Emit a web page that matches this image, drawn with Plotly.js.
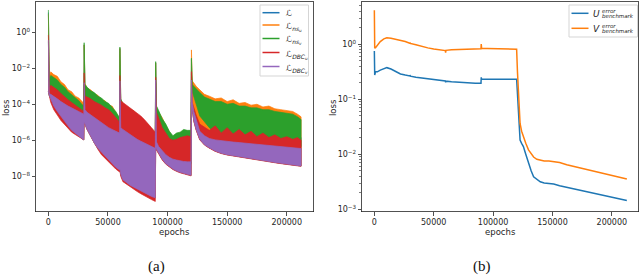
<!DOCTYPE html>
<html><head><meta charset="utf-8">
<script src="https://cdn.plot.ly/plotly-3.0.1.min.js"></script>
<style>html,body{margin:0;padding:0;background:#fff}#chart{width:640px;height:275px}</style>
</head><body><div id="chart"></div>
<script>
// ---------- Panel (a): loss components (band envelopes, log10 of loss) ----------
const EPOCHS = [
  0, 700, 2000, 4500, 7500, 10500, 13500, 16500, 19500, 22500, 25500, 28000, 29700,
  30000, 30700, 32500, 35500, 38500, 41500, 44500, 47500, 50500, 53500, 56500, 59700,
  60000, 60700, 62500, 65500, 68500, 71500, 74500, 77500, 80500, 83500, 86500, 89700,
  90000, 90700, 92500, 95500, 98500, 101500, 104500, 107500, 110500, 113500, 116500, 119700,
  120000, 120700, 122000, 124000, 127000, 131000, 135000, 140000, 145000, 150000, 155000, 160000,
  165000, 170000, 175000, 180000, 185000, 190000, 195000, 200000, 205000, 209000, 212000
];
// L (total) upper envelope
const L_HI = [
  1.1, -2.9, -2.7, -2.8, -3.0, -3.2, -3.4, -3.55, -3.7, -3.85, -4.0, -4.15, -4.25,
  -0.7, -3.2, -3.35, -3.5, -3.6, -3.75, -3.85, -4.0, -4.15, -4.3, -4.55, -4.85,
  -0.9, -3.9, -4.05, -4.2, -4.3, -4.45, -4.6, -4.8, -5.0, -5.2, -5.45, -5.65,
  -1.7, -4.3, -4.6, -5.0, -5.3, -5.65, -5.85, -5.75, -5.65, -5.55, -5.55, -5.55,
  -1.5, -3.2, -3.4, -3.7, -4.2, -4.6, -4.9, -5.05, -5.2, -5.3, -5.35, -5.4,
  -5.45, -5.5, -5.55, -5.6, -5.65, -5.7, -5.72, -5.75, -5.8, -5.8, -5.85
];
// L_ns_u upper envelope
const NSU_HI = [
  1.0, -2.45, -2.2, -2.35, -2.45, -2.75, -2.9, -3.2, -3.3, -3.55, -3.65, -3.85, -3.95,
  -0.7, -2.85, -3.1, -3.2, -3.4, -3.5, -3.75, -3.8, -4.05, -4.1, -4.45, -4.8,
  -0.9, -3.75, -4.0, -4.1, -4.3, -4.35, -4.6, -4.7, -5.0, -5.1, -5.45, -5.65,
  -1.7, -4.15, -4.45, -4.75, -5.2, -5.5, -5.85, -5.65, -5.6, -5.45, -5.5, -5.5,
  -0.98, -2.7, -2.85, -3.0, -3.2, -3.45, -3.55, -3.7, -3.65, -3.85, -3.75, -3.95,
  -3.9, -4.05, -4.0, -4.15, -4.1, -4.25, -4.3, -4.35, -4.4, -4.55, -4.7
];
// L_ns_v upper / lower envelope
const NSV_HI = [
  1.24, -2.6, -2.4, -2.5, -2.65, -2.9, -3.05, -3.3, -3.45, -3.65, -3.8, -4.0, -4.1,
  -0.58, -2.9, -3.05, -3.25, -3.35, -3.55, -3.65, -3.85, -3.95, -4.15, -4.4, -4.75,
  -0.82, -3.7, -3.95, -4.15, -4.25, -4.4, -4.55, -4.75, -4.95, -5.15, -5.4, -5.6,
  -1.63, -4.1, -4.35, -4.8, -5.1, -5.5, -5.75, -5.6, -5.55, -5.4, -5.45, -5.45,
  -1.44, -2.9, -3.0, -3.15, -3.35, -3.6, -3.7, -3.85, -3.85, -4.0, -3.95, -4.1,
  -4.1, -4.2, -4.2, -4.3, -4.3, -4.4, -4.45, -4.5, -4.55, -4.7, -4.85
];
const NSV_LO = [
  -0.5, -3.5, -3.6, -3.7, -3.85, -4.0, -4.15, -4.25, -4.35, -4.45, -4.55, -4.65, -4.7,
  -2.9, -4.4, -4.6, -4.75, -4.9, -5.05, -5.15, -5.3, -5.45, -5.55, -5.65, -5.75,
  -2.8, -5.4, -5.5, -5.65, -5.8, -5.95, -6.05, -6.15, -6.25, -6.35, -6.45, -6.55,
  -2.8, -6.2, -6.45, -6.7, -6.9, -7.05, -7.15, -7.2, -7.25, -7.28, -7.3, -7.3,
  -2.3, -3.3, -3.6, -4.0, -4.65, -5.0, -5.3, -5.6, -5.8, -5.9, -5.95, -6.0,
  -6.0, -6.05, -6.1, -6.1, -6.15, -6.2, -6.2, -6.25, -6.3, -6.3, -6.35
];
// L_DBC_u upper / lower envelope
const DBCU_HI = [
  -0.15, -3.1, -2.95, -3.05, -3.2, -3.4, -3.6, -3.75, -3.9, -4.05, -4.15, -4.3, -4.4,
  -2.26, -3.55, -3.6, -3.7, -3.85, -3.95, -4.05, -4.2, -4.3, -4.5, -4.75, -5.0,
  -2.4, -3.8, -3.9, -4.05, -4.15, -4.3, -4.45, -4.65, -4.85, -5.05, -5.3, -5.55,
  -2.5, -4.45, -4.8, -5.3, -5.6, -5.9, -6.0, -5.95, -5.85, -5.8, -5.75, -5.8,
  -2.19, -3.9, -4.2, -4.6, -5.1, -5.3, -5.45, -5.2, -5.6, -5.3, -5.65, -5.4,
  -5.7, -5.5, -5.8, -5.6, -5.85, -5.7, -5.9, -5.8, -5.95, -5.85, -6.0
];
const DBCU_LO = [
  -3.3, -3.6, -3.9, -4.3, -4.6, -4.9, -5.1, -5.35, -5.55, -5.68, -5.8, -5.92, -5.98,
  -5.0, -5.1, -5.4, -5.8, -6.15, -6.5, -6.8, -7.0, -7.2, -7.4, -7.6, -7.76,
  -7.7, -8.0, -8.3, -8.45, -8.6, -8.72, -8.85, -8.97, -9.08, -9.2, -9.3, -9.4,
  -6.3, -6.55, -6.8, -7.1, -7.33, -7.48, -7.63, -7.73, -7.81, -7.88, -7.93, -7.98,
  -3.9, -4.25, -4.95, -5.45, -5.98, -6.27, -6.44, -6.62, -6.74, -6.82, -6.89, -6.95,
  -7.0, -7.05, -7.1, -7.15, -7.2, -7.25, -7.3, -7.35, -7.39, -7.43, -7.45
];
// L_DBC_v upper / lower envelope
const DBCV_HI = [
  -0.43, -3.4, -3.45, -3.55, -3.7, -3.85, -4.0, -4.1, -4.2, -4.3, -4.4, -4.5, -4.55,
  -2.8, -4.3, -4.45, -4.6, -4.75, -4.9, -5.0, -5.15, -5.3, -5.4, -5.5, -5.6,
  -2.7, -5.3, -5.4, -5.55, -5.7, -5.85, -5.95, -6.05, -6.15, -6.25, -6.35, -6.45,
  -2.65, -6.1, -6.35, -6.6, -6.8, -6.95, -7.05, -7.1, -7.15, -7.18, -7.2, -7.2,
  -2.65, -3.9, -4.4, -4.9, -5.5, -5.75, -5.9, -5.98, -6.03, -6.06, -6.1, -6.13,
  -6.16, -6.2, -6.23, -6.27, -6.3, -6.33, -6.36, -6.39, -6.42, -6.44, -6.46
];
const DBCV_LO = [
  -3.3, -3.5, -3.75, -4.1, -4.4, -4.7, -4.95, -5.2, -5.45, -5.6, -5.75, -5.9, -5.98,
  -5.0, -5.1, -5.4, -5.8, -6.15, -6.45, -6.7, -6.9, -7.1, -7.3, -7.5, -7.65,
  -7.6, -7.9, -8.2, -8.35, -8.5, -8.6, -8.72, -8.82, -8.92, -9.02, -9.12, -9.2,
  -6.3, -6.5, -6.75, -7.05, -7.3, -7.45, -7.6, -7.7, -7.78, -7.85, -7.9, -7.95,
  -3.9, -4.2, -4.9, -5.4, -5.95, -6.25, -6.42, -6.6, -6.72, -6.8, -6.87, -6.93,
  -6.98, -7.03, -7.08, -7.13, -7.18, -7.23, -7.28, -7.33, -7.37, -7.41, -7.43
];

// ---------- Panel (b): benchmark errors (log10) ----------
const BENCH_EPOCHS = [0, 300, 1000, 2500, 5000, 8000, 10500, 14000, 18000, 22000, 26000, 29800, 30000, 30300, 35000,
  40000, 45000, 50000, 55000, 59800, 60000, 60300, 65000, 70000, 75000, 80000, 85000, 89800, 90000, 90300,
  95000, 100000, 105000, 110000, 115000, 119800, 120500, 121500, 122700, 124000, 125500, 127500, 129800, 132000, 134100,
  136800, 139700, 143000, 147000, 151000, 156000, 162000, 168000, 174000, 180000, 186000, 192000, 198000, 204000, 208000, 212600];
const U_ERR_LOG = [-0.12, -0.56, -0.5, -0.5, -0.47, -0.44, -0.425, -0.45, -0.5, -0.54, -0.56, -0.576, -0.56, -0.58, -0.6,
  -0.615, -0.63, -0.645, -0.655, -0.667, -0.69, -0.67, -0.68, -0.69, -0.698, -0.703, -0.707, -0.71, -0.6, -0.637,
  -0.637, -0.637, -0.637, -0.637, -0.637, -0.637, -0.9, -1.4, -1.74, -1.8, -1.86, -2.0, -2.16, -2.3, -2.41,
  -2.46, -2.5, -2.52, -2.53, -2.54, -2.57, -2.6, -2.63, -2.66, -2.68, -2.71, -2.74, -2.77, -2.8, -2.82, -2.84];
const V_ERR_LOG = [0.62, -0.07, -0.06, -0.02, 0.05, 0.1, 0.12, 0.11, 0.09, 0.075, 0.05, 0.02, 0.035, 0.015, -0.01,
  -0.04, -0.065, -0.085, -0.1, -0.115, -0.15, -0.11, -0.1, -0.095, -0.09, -0.085, -0.082, -0.08, 0.005, -0.075,
  -0.078, -0.08, -0.083, -0.085, -0.088, -0.09, -0.5, -1.0, -1.44, -1.58, -1.68, -1.8, -1.92, -2.0, -2.05,
  -2.09, -2.11, -2.12, -2.12, -2.13, -2.15, -2.19, -2.22, -2.25, -2.28, -2.31, -2.34, -2.37, -2.4, -2.42, -2.45];

const X_TICKS = [0, 50000, 100000, 150000, 200000];
const X_TICK_TEXT = ['0', '50000', '100000', '150000', '200000'];
const YA_TICKS = [1, 1e-2, 1e-4, 1e-6, 1e-8];
const YA_TICK_TEXT = ['10<sup>0</sup>', '10<sup>−2</sup>', '10<sup>−4</sup>', '10<sup>−6</sup>', '10<sup>−8</sup>'];
const YB_TICKS = [1, 1e-1, 1e-2, 1e-3];
const YB_TICK_TEXT = ['10<sup>0</sup>', '10<sup>−1</sup>', '10<sup>−2</sup>', '10<sup>−3</sup>'];

const LEGEND_A = ['ℒ', 'ℒ<sub><i>ns<sub>u</sub></i></sub>', 'ℒ<sub><i>ns<sub>v</sub></i></sub>',
                  'ℒ<sub><i>DBC<sub>u</sub></i></sub>', 'ℒ<sub><i>DBC<sub>v</sub></i></sub>'];
const COLORS_A = ['#1f77b4', '#ff7f0e', '#2ca02c', '#d62728', '#9467bd'];
const HI_A = [L_HI, NSU_HI, NSV_HI, DBCU_HI, DBCV_HI];
const LO_A = [DBCV_LO, DBCV_LO, NSV_LO, DBCU_LO, DBCV_LO];
const LEGEND_B = ['U', 'V'];
const COLORS_B = ['#1f77b4', '#ff7f0e'];

const p10 = v => Math.pow(10, v);
const traces = [];
HI_A.forEach((hi, i) => {
  traces.push({
    type: 'scatter', mode: 'lines', xaxis: 'x', yaxis: 'y', name: LEGEND_A[i],
    x: EPOCHS.concat(EPOCHS.slice().reverse()),
    y: hi.map(p10).concat(LO_A[i].slice().reverse().map(p10)),
    fill: 'toself', fillcolor: COLORS_A[i],
    line: {color: COLORS_A[i], width: 0.7},
    showlegend: false, hoverinfo: 'skip'
  });
});
[U_ERR_LOG, V_ERR_LOG].forEach((arr, i) => {
  traces.push({
    type: 'scatter', mode: 'lines', xaxis: 'x2', yaxis: 'y2', name: LEGEND_B[i],
    x: BENCH_EPOCHS, y: arr.map(p10), line: {color: COLORS_B[i], width: 1.5}, showlegend: false
  });
});

const axCol = '#262626';
const xCommon = {
  range: [-10400, 222000], tickmode: 'array', tickvals: X_TICKS, ticktext: X_TICK_TEXT,
  ticks: 'outside', ticklen: 3.5, tickwidth: 0.8, tickcolor: axCol,
  showline: true, mirror: true, linecolor: axCol, linewidth: 0.8,
  showgrid: false, zeroline: false, tickfont: {size: 8, color: axCol}
};
const yCommon = {
  type: 'log', tickmode: 'array',
  ticks: 'outside', ticklen: 3.5, tickwidth: 0.8, tickcolor: axCol,
  showline: true, mirror: true, linecolor: axCol, linewidth: 0.8,
  showgrid: false, zeroline: false, tickfont: {size: 8, color: axCol}
};
const H = 275, W = 640;
const py = v => (H - v) / H, px = v => v / W;
const ann = (text, x, y, extra) => Object.assign({text, x: px(x), y: py(y), xref: 'paper', yref: 'paper',
  showarrow: false, xanchor: 'center', yanchor: 'middle', font: {size: 8.5}}, extra || {});

// manual legends (box + line samples + labels)
const shapes = [
  {type: 'rect', xref: 'paper', yref: 'paper', x0: px(260), x1: px(308.5), y0: py(76), y1: py(5),
   fillcolor: 'rgba(255,255,255,0.85)', line: {color: '#d5d5d5', width: 1}, layer: 'above'},
  {type: 'rect', xref: 'paper', yref: 'paper', x0: px(569), x1: px(637.5), y0: py(37), y1: py(5),
   fillcolor: 'rgba(255,255,255,0.85)', line: {color: '#d5d5d5', width: 1}, layer: 'above'}
];
const legA_y = [12.7, 25, 38.5, 52.5, 66.5];
const legB_y = [13.3, 28.3];
const annotations = [
  ann('loss', 6, 108, {textangle: -90}),
  ann('loss', 333, 108, {textangle: -90}),
  ann('epochs', 174.5, 231.5),
  ann('epochs', 500, 231.5),
  ann('(a)', 156, 266.5, {font: {size: 15, family: 'Liberation Serif', color: '#111'}}),
  ann('(b)', 481.5, 266.5, {font: {size: 15, family: 'Liberation Serif', color: '#111'}})
];
LEGEND_A.forEach((t, i) => {
  shapes.push({type: 'line', xref: 'paper', yref: 'paper', x0: px(262.5), x1: px(279.5),
    y0: py(legA_y[i]), y1: py(legA_y[i]), line: {color: COLORS_A[i], width: 1.5}, layer: 'above'});
  annotations.push(ann(t, 284, legA_y[i] + (i ? 2 : 0), {xanchor: 'left', font: {size: 8.5, color: axCol}}));
});
LEGEND_B.forEach((t, i) => {
  shapes.push({type: 'line', xref: 'paper', yref: 'paper', x0: px(571.5), x1: px(588.5),
    y0: py(legB_y[i]), y1: py(legB_y[i]), line: {color: COLORS_B[i], width: 1.5}, layer: 'above'});
  annotations.push(ann('<i>' + t + '</i>', 596, legB_y[i] + 0.5, {font: {size: 9, color: axCol}}));
  annotations.push(ann('<i>error</i>', 599.5, legB_y[i] - 2.3, {xanchor: 'left', font: {size: 5.5, color: axCol}}));
  annotations.push(ann('<i>benchmark</i>', 599.5, legB_y[i] + 2.8, {xanchor: 'left', font: {size: 5.5, color: axCol}}));
});

const layout = {
  width: W, height: H, margin: {l: 0, r: 0, t: 0, b: 0},
  paper_bgcolor: '#fff', plot_bgcolor: '#fff', showlegend: false,
  font: {family: 'DejaVu Sans', size: 8, color: axCol},
  xaxis: Object.assign({}, xCommon, {domain: [px(36), px(313)], anchor: 'y'}),
  yaxis: Object.assign({}, yCommon, {domain: [py(211.5), py(2)], anchor: 'x', range: [-9.96, 1.683],
    tickvals: YA_TICKS, ticktext: YA_TICK_TEXT}),
  xaxis2: Object.assign({}, xCommon, {domain: [px(362), px(638)], anchor: 'y2'}),
  yaxis2: Object.assign({}, yCommon, {domain: [py(211.5), py(2)], anchor: 'x2', range: [-3.04, 0.769],
    tickvals: YB_TICKS, ticktext: YB_TICK_TEXT,
    minor: {ticks: 'outside', ticklen: 2, tickwidth: 0.6, tickcolor: axCol, tickmode: 'array',
      tickvals: [0.002,0.003,0.004,0.005,0.006,0.007,0.008,0.009,0.02,0.03,0.04,0.05,0.06,0.07,0.08,0.09,
                 0.2,0.3,0.4,0.5,0.6,0.7,0.8,0.9,2,3,4,5]}}),
  shapes, annotations
};
Plotly.newPlot('chart', traces, layout, {staticPlot: true, displayModeBar: false});
</script>
</body></html>
